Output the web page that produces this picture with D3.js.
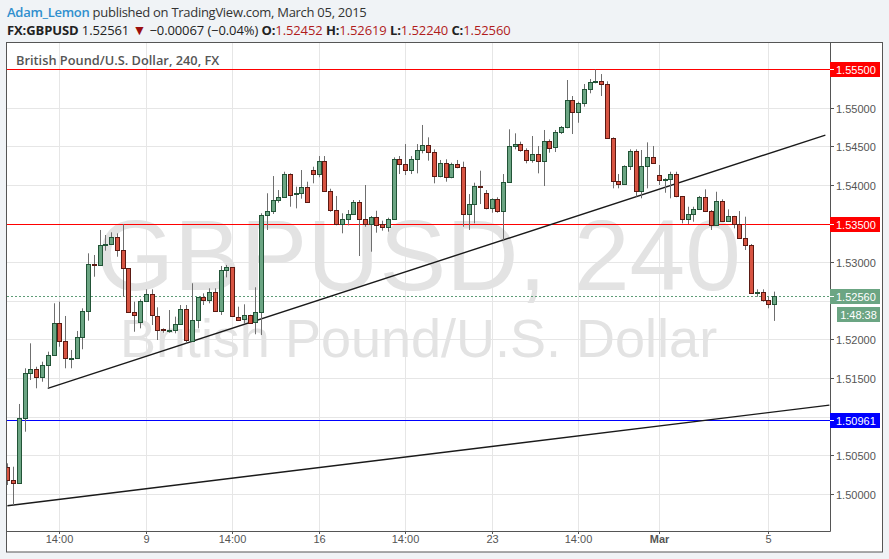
<!DOCTYPE html>
<html><head><meta charset="utf-8">
<script src="https://cdn.jsdelivr.net/npm/d3@7"></script>
<style>body{margin:0;background:#f0f3f6;} svg{display:block}</style>
</head><body><svg id="c" width="889" height="559"></svg>
<script>
// ---- DATA (4h bars, GBPUSD, 3 Feb 2015 02:00 -> 5 Mar 2015 06:00) ----
const barOpen = [1.50353,1.50181,1.50138,1.50980,1.51562,1.51614,1.51510,1.51669,1.51795,1.52209,
1.51976,1.51751,1.51760,1.52028,1.52364,1.52977,1.52960,1.53222,1.53235,1.53322,
1.53158,1.52921,1.52352,1.52222,1.52498,1.52584,1.52308,1.52131,1.52113,1.52122,
1.52196,1.52390,1.51984,1.52252,1.52546,1.52511,1.52614,1.52368,1.52895,1.52934,
1.52295,1.52261,1.52317,1.52217,1.52352,1.53602,1.53658,1.53805,1.53848,1.54141,
1.53873,1.53890,1.53969,1.54189,1.54137,1.54306,1.53917,1.53671,1.53490,1.53555,
1.53620,1.53779,1.53563,1.53503,1.53589,1.53490,1.53451,1.53555,1.54332,1.54267,
1.54184,1.54332,1.54448,1.54513,1.54422,1.54111,1.54280,1.54099,1.54267,1.54228,
1.53620,1.53749,1.53982,1.53892,1.53697,1.53814,1.53658,1.54034,1.54500,1.54526,
1.54448,1.54319,1.54396,1.54306,1.54568,1.54482,1.54681,1.54746,1.55095,1.54940,
1.55056,1.55237,1.55328,1.55341,1.55302,1.54603,1.54047,1.54008,1.54241,1.54439,
1.53917,1.54241,1.54357,1.54125,1.54060,1.54073,1.54137,1.53853,1.53555,1.53620,
1.53684,1.53840,1.53658,1.53477,1.53788,1.53529,1.53594,1.53490,1.53309,1.53219,
1.52597,1.52610,1.52507,1.52452];
const barHigh = [1.50397,1.50353,1.51165,1.51627,1.51950,1.51647,1.51712,1.51842,1.52468,1.52489,
1.52304,1.51864,1.52110,1.52403,1.53115,1.53093,1.53417,1.53352,1.53387,1.53374,
1.53494,1.52925,1.52489,1.52520,1.52649,1.52649,1.52416,1.52144,1.52381,1.52295,
1.52446,1.52446,1.52727,1.52550,1.52597,1.52662,1.52662,1.52951,1.52964,1.52938,
1.52424,1.52455,1.52320,1.52675,1.53633,1.53892,1.54115,1.53934,1.54171,1.54150,
1.53977,1.54193,1.54042,1.54236,1.54374,1.54374,1.53951,1.53857,1.53633,1.53675,
1.53805,1.53805,1.53999,1.53598,1.53666,1.53537,1.53576,1.54357,1.54374,1.54529,
1.54374,1.54529,1.54776,1.54616,1.54460,1.54323,1.54332,1.54288,1.54323,1.54301,
1.53882,1.54029,1.54184,1.53934,1.53827,1.53840,1.54141,1.54720,1.54668,1.54560,
1.54474,1.54633,1.54504,1.54711,1.54590,1.54711,1.54763,1.55358,1.55151,1.55077,
1.55306,1.55371,1.55496,1.55435,1.55341,1.54616,1.54141,1.54254,1.54461,1.54461,
1.54452,1.54551,1.54504,1.54258,1.54086,1.54171,1.54171,1.53857,1.53718,1.53718,
1.53857,1.53943,1.53675,1.53912,1.53814,1.53684,1.53600,1.53662,1.53589,1.53235,
1.52649,1.52649,1.52553,1.52619];
const barLow = [1.50116,1.49858,1.50130,1.50806,1.51475,1.51368,1.51453,1.51368,1.51790,1.51906,
1.51627,1.51627,1.51750,1.51873,1.52243,1.52812,1.52955,1.53149,1.53230,1.53071,
1.52553,1.52350,1.52100,1.52144,1.52490,1.52187,1.51993,1.52087,1.52087,1.52080,
1.52187,1.51950,1.51980,1.52144,1.52446,1.52468,1.52365,1.52317,1.52804,1.52290,
1.52255,1.52200,1.52215,1.52067,1.52058,1.53417,1.53624,1.53770,1.53840,1.53718,
1.53697,1.53822,1.53770,1.54021,1.54099,1.53910,1.53653,1.53477,1.53374,1.53477,
1.53611,1.53080,1.53459,1.53136,1.53382,1.53408,1.53395,1.53550,1.54141,1.54128,
1.54141,1.54150,1.54409,1.54314,1.54021,1.54099,1.54042,1.54086,1.54215,1.53459,
1.53417,1.53503,1.53753,1.53684,1.53640,1.53640,1.53287,1.54030,1.54461,1.54430,
1.54280,1.54288,1.54150,1.53986,1.54417,1.54426,1.54659,1.54733,1.54659,1.54805,
1.55013,1.55186,1.55315,1.55151,1.54600,1.53956,1.53956,1.53999,1.54193,1.53848,
1.53827,1.53956,1.54271,1.53999,1.53899,1.53827,1.53840,1.53503,1.53494,1.53524,
1.53680,1.53649,1.53417,1.53470,1.53520,1.53520,1.53438,1.53305,1.53158,1.52590,
1.52553,1.52489,1.52403,1.52240];
const barClose = [1.50181,1.50138,1.50980,1.51562,1.51614,1.51510,1.51669,1.51795,1.52209,1.51976,
1.51751,1.51760,1.52028,1.52364,1.52973,1.52960,1.53222,1.53235,1.53322,1.53158,
1.52921,1.52352,1.52308,1.52498,1.52584,1.52308,1.52131,1.52113,1.52122,1.52196,
1.52390,1.51984,1.52252,1.52546,1.52511,1.52614,1.52368,1.52895,1.52934,1.52295,
1.52261,1.52317,1.52217,1.52352,1.53611,1.53658,1.53805,1.53848,1.54141,1.53873,
1.53890,1.53969,1.53775,1.54137,1.54306,1.53917,1.53671,1.53490,1.53555,1.53620,
1.53779,1.53563,1.53503,1.53589,1.53490,1.53451,1.53555,1.54332,1.54267,1.54184,
1.54332,1.54448,1.54513,1.54422,1.54111,1.54280,1.54099,1.54267,1.54228,1.53620,
1.53749,1.53982,1.53964,1.53697,1.53814,1.53658,1.54034,1.54500,1.54526,1.54448,
1.54319,1.54396,1.54306,1.54568,1.54482,1.54681,1.54746,1.55095,1.54940,1.55056,
1.55237,1.55328,1.55341,1.55302,1.54603,1.54047,1.54008,1.54241,1.54439,1.53917,
1.54241,1.54357,1.54280,1.54060,1.54073,1.54137,1.53853,1.53555,1.53620,1.53684,
1.53840,1.53658,1.53477,1.53788,1.53529,1.53594,1.53490,1.53309,1.53219,1.52597,
1.52610,1.52507,1.52452,1.52560];

const timeTickLabels = ["14:00","9","14:00","16","14:00","23","14:00","Mar","5"];
const timeTickBars   = [9, 24, 39, 54, 69, 84, 99, 113, 132];
const priceTicks = [1.500,1.505,1.510,1.515,1.520,1.525,1.530,1.535,1.540,1.545,1.550,1.555];
const levelPrices = [1.55500, 1.53500, 1.50961];
const levelColors = ["#ff0000", "#ff0000", "#0000ff"];
const lastPrice = 1.52560;
const headerLastPrice = "1.52561";
const headerChange = "\u22120.00067 (\u22120.04%)";
const countdownText = "1:48:38";
// trend lines: start / end anchors (bar index, price)
const trendStartBars = [0, 7];
const trendStartPrices = [1.49848, 1.51368];
const trendEndBars = [142.6, 141.9];
const trendEndPrices = [1.51150, 1.54645];

const symbolText = "FX:GBPUSD";
const headerAuthor = "Adam_Lemon";
const headerRest = " published on TradingView.com, March 05, 2015";
const chartTitle = "British Pound/U.S. Dollar, 240, FX";
const watermarkBig = "GBPUSD, 240";
const watermarkSmall = "British Pound/U.S. Dollar";

// ---- LAYOUT ----
const W = 889, H = 559;
const plotL = 7, plotR = 830, plotT = 43, plotB = 531;
const svg = d3.select("#c");
const FONT = "'Open Sans', 'Noto Sans', sans-serif";
const AX = "'Liberation Sans', Arial, sans-serif";

const x = d3.scaleLinear().domain([-0.069, 142.7]).range([plotL, plotR]);
const y = d3.scaleLinear().domain([1.49521, 1.55837]).range([plotB, plotT]);

svg.append("rect").attr("width", W).attr("height", H).attr("fill", "#f0f3f6");

// header
const h1 = svg.append("text").attr("x", 7).attr("y", 16.5).attr("font-family", FONT).attr("font-size", 13)
  .attr("letter-spacing", -0.28);
h1.append("tspan").attr("fill", "#2f8fce").attr("font-weight", 600).text(headerAuthor);
h1.append("tspan").attr("fill", "#333").text(headerRest);

const h2 = svg.append("text").attr("x", 7).attr("y", 34.5).attr("font-family", FONT).attr("font-size", 13)
  .attr("fill", "#222").attr("letter-spacing", -0.1);
h2.append("tspan").attr("font-weight", 700).text(symbolText);
h2.append("tspan").text(" " + headerLastPrice + " ");
h2.append("tspan").attr("fill", "#9b0e0e").attr("font-size", 14).text("\u25BC");
h2.append("tspan").text(" " + headerChange + " ");
const last = barClose.length - 1;
const ohlc = [["O:", barOpen[last]], ["H:", barHigh[last]], ["L:", barLow[last]], ["C:", barClose[last]]];
ohlc.forEach((d, k) => {
  h2.append("tspan").attr("font-weight", 700).text((k ? " " : "") + d[0]);
  h2.append("tspan").attr("fill", "#b01c1c").text(d[1].toFixed(5));
});

// chart frame
svg.append("rect").attr("x", 6.5).attr("y", 42.5).attr("width", 876).attr("height", 509.5)
  .attr("fill", "#fff").attr("stroke", "#555").attr("stroke-width", 1);

// grid
const grid = svg.append("g").attr("stroke", "#e6e6e6").attr("stroke-width", 1);
grid.selectAll("line.h").data(priceTicks).join("line")
  .attr("x1", plotL).attr("x2", plotR)
  .attr("y1", d => Math.round(y(d)) + 0.5).attr("y2", d => Math.round(y(d)) + 0.5);
grid.selectAll("line.v").data(timeTickBars).join("line")
  .attr("y1", plotT).attr("y2", plotB)
  .attr("x1", d => Math.round(x(d)) + 0.5).attr("x2", d => Math.round(x(d)) + 0.5);

// clip
svg.append("clipPath").attr("id", "pc").append("rect")
  .attr("x", plotL).attr("y", plotT).attr("width", plotR - plotL).attr("height", plotB - plotT);
const plot = svg.append("g").attr("clip-path", "url(#pc)");

// watermark
const cx = (plotL + plotR) / 2;
plot.append("text").attr("x", cx).attr("y", 290).attr("text-anchor", "middle")
  .attr("font-family", AX).attr("font-size", 100).attr("fill", "#e3e3e3").text(watermarkBig);
plot.append("text").attr("x", cx).attr("y", 357).attr("text-anchor", "middle")
  .attr("font-family", AX).attr("font-size", 54).attr("fill", "#e3e3e3").text(watermarkSmall);

// level lines
levelPrices.forEach((p, k) => {
  plot.append("line").attr("x1", plotL).attr("x2", plotR)
    .attr("y1", Math.round(y(p)) + 0.5).attr("y2", Math.round(y(p)) + 0.5)
    .attr("stroke", levelColors[k]).attr("stroke-width", 1);
});
// last price dotted line
plot.append("line").attr("x1", plotL).attr("x2", plotR)
  .attr("y1", Math.round(y(lastPrice)) + 0.5).attr("y2", Math.round(y(lastPrice)) + 0.5)
  .attr("stroke", "#5e9c77").attr("stroke-width", 1).attr("stroke-dasharray", "2,2");

// trend lines
trendStartBars.forEach((b, k) => {
  plot.append("line")
    .attr("x1", x(b)).attr("y1", y(trendStartPrices[k]))
    .attr("x2", x(trendEndBars[k])).attr("y2", y(trendEndPrices[k]))
    .attr("stroke", "#1a1a1a").attr("stroke-width", 1.4);
});

// candles
const bars = d3.range(barOpen.length).map(i => ({i, o: barOpen[i], h: barHigh[i], l: barLow[i], c: barClose[i]}));
const cg = plot.append("g");
const candle = cg.selectAll("g").data(bars).join("g");
candle.append("line")
  .attr("x1", d => Math.round(x(d.i)) + 0.5).attr("x2", d => Math.round(x(d.i)) + 0.5)
  .attr("y1", d => y(d.h)).attr("y2", d => y(d.l))
  .attr("stroke", "#6f6f6f").attr("stroke-width", 1);
candle.append("rect")
  .attr("x", d => Math.round(x(d.i)) - 1.5)
  .attr("width", 4)
  .attr("y", d => Math.round(y(Math.max(d.o, d.c))) + 0.5)
  .attr("height", d => Math.max(1, Math.round(Math.abs(y(d.o) - y(d.c)))))
  .attr("fill", d => d.c >= d.o ? "#6ba583" : "#d75442")
  .attr("stroke", d => d.c >= d.o ? "#225437" : "#5b1a13")
  .attr("stroke-width", 1);

// axis lines
svg.append("line").attr("x1", plotR + 0.5).attr("x2", plotR + 0.5).attr("y1", 42.5).attr("y2", plotB + 0.5)
  .attr("stroke", "#555");
svg.append("line").attr("x1", 6.5).attr("x2", plotR + 0.5).attr("y1", plotB + 0.5).attr("y2", plotB + 0.5)
  .attr("stroke", "#555");

// price axis (labels hidden where a level label sits on top)
const labelPrices = levelPrices.concat([lastPrice]);
const pa = svg.append("g").attr("font-family", AX).attr("font-size", 11).attr("fill", "#555");
priceTicks.forEach(p => {
  const yy = Math.round(y(p)) + 0.5;
  pa.append("line").attr("x1", plotR).attr("x2", plotR + 4).attr("y1", yy).attr("y2", yy).attr("stroke", "#555");
  const covered = labelPrices.some(q => Math.abs(y(q) - y(p)) < 13);
  if (!covered) pa.append("text").attr("x", 836).attr("y", yy + 4).text(p.toFixed(5));
});
// time axis
const ta = svg.append("g").attr("font-family", AX).attr("font-size", 11).attr("fill", "#555");
timeTickBars.forEach((b, k) => {
  const xx = Math.round(x(b)) + 0.5;
  ta.append("line").attr("x1", xx).attr("x2", xx).attr("y1", plotB).attr("y2", plotB + 3).attr("stroke", "#555");
  ta.append("text").attr("x", xx).attr("y", 543).attr("text-anchor", "middle")
    .attr("font-weight", timeTickLabels[k] === "Mar" ? 700 : 400)
    .text(timeTickLabels[k]);
});

// level labels on axis
function axisLabel(p, color, txt) {
  const yy = Math.round(y(p));
  svg.append("rect").attr("x", plotR).attr("y", yy - 7).attr("width", 50).attr("height", 15).attr("fill", color);
  svg.append("line").attr("x1", plotR).attr("x2", plotR + 4).attr("y1", yy + 0.5).attr("y2", yy + 0.5).attr("stroke", "#fff");
  svg.append("text").attr("x", 836).attr("y", yy + 4.5).attr("font-family", AX).attr("font-size", 11)
    .attr("fill", "#fff").text(txt);
}
levelPrices.forEach((p, k) => axisLabel(p, levelColors[k], p.toFixed(5)));
axisLabel(lastPrice, "#6ba583", lastPrice.toFixed(5));
const ly = Math.round(y(lastPrice)) + 11;
svg.append("rect").attr("x", 837).attr("y", ly).attr("width", 43).attr("height", 15).attr("fill", "#6ba583");
svg.append("text").attr("x", 858.5).attr("y", ly + 11.5).attr("text-anchor", "middle").attr("font-family", AX)
  .attr("font-size", 11).attr("fill", "#fff").text(countdownText);

// chart title
svg.append("text").attr("x", 16).attr("y", 65).attr("font-family", FONT).attr("font-size", 12.8)
  .attr("font-weight", 600).attr("fill", "#555").text(chartTitle);
</script></body></html>
